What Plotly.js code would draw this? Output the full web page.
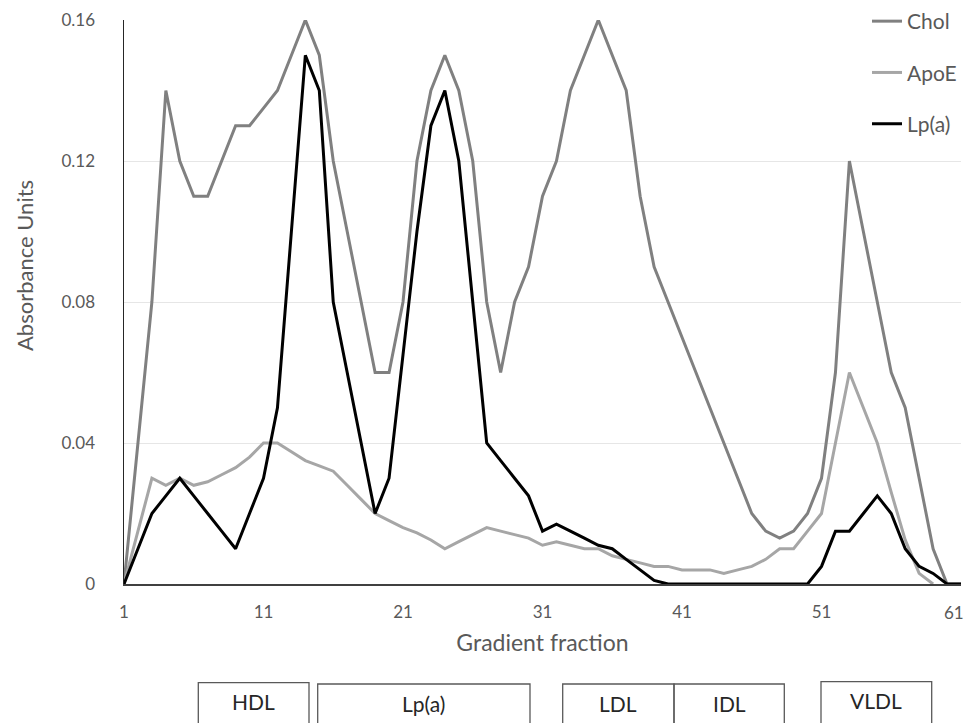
<!DOCTYPE html>
<html>
<head>
<meta charset="utf-8">
<script src="https://cdn.plot.ly/plotly-3.0.1.min.js"></script>
<style>html,body{margin:0;padding:0;background:#fff;}#chart{width:969px;height:723px;}</style>
</head>
<body>
<div id="chart"></div>
<script>
// Gradient fractions 1..61
const fractions = [1,2,3,4,5,6,7,8,9,10,11,12,13,14,15,16,17,18,19,20,21,22,23,24,25,26,27,28,29,30,31,32,33,34,35,36,37,38,39,40,41,42,43,44,45,46,47,48,49,50,51,52,53,54,55,56,57,58,59,60,61];

const chol = [0,0.04,0.08,0.14,0.12,0.11,0.11,0.12,0.13,0.13,0.135,0.14,0.15,0.16,0.15,0.12,0.10,0.08,0.06,0.06,
  0.08,0.12,0.14,0.15,0.14,0.12,0.08,0.06,0.08,0.09,0.11,0.12,0.14,0.15,0.16,0.15,0.14,0.11,0.09,0.08,
  0.07,0.06,0.05,0.04,0.03,0.02,0.015,0.013,0.015,0.02,0.03,0.06,0.12,0.10,0.08,0.06,0.05,0.03,0.01,0,0];

const apoE = [0,0.015,0.030,0.028,0.030,0.028,0.029,0.031,0.033,0.036,0.040,0.040,0.0375,0.035,0.0335,0.032,0.028,0.024,0.020,0.018,
  0.016,0.0145,0.0125,0.010,0.012,0.014,0.016,0.015,0.014,0.013,0.011,0.012,0.011,0.010,0.010,0.008,0.007,0.006,0.005,0.005,
  0.004,0.004,0.004,0.003,0.004,0.005,0.007,0.010,0.010,0.015,0.020,0.040,0.060,0.050,0.040,0.026,0.0125,0.003,0,null,null];

const lpa = [0,0.010,0.020,0.025,0.030,0.025,0.020,0.015,0.010,0.020,0.030,0.050,0.100,0.150,0.140,0.080,0.060,0.040,0.020,0.030,
  0.065,0.100,0.130,0.140,0.120,0.080,0.040,0.035,0.030,0.025,0.015,0.017,0.015,0.013,0.011,0.010,0.007,0.004,0.001,0,
  0,0,0,0,0,0,0,0,0,0,0.005,0.015,0.015,0.020,0.025,0.020,0.010,0.005,0.003,0,0];

const seriesNames = ["Chol", "ApoE", "Lp(a)"];
const xTicks = [1, 11, 21, 31, 41, 51, 61];
const yTicks = [0, 0.04, 0.08, 0.12, 0.16];
const yTickText = ["0", "0.04", "0.08", "0.12", "0.16"];
const fractionBands = ["HDL", "Lp(a)", "LDL", "IDL", "VLDL"];

// layout geometry (pixels)
const W = 969, H = 723, L = 124, R = 8, T = 20, B = 139;
const pw = W - L - R, ph = H - T - B;
const px = v => (v - L) / pw;
const py = v => (H - B - v) / ph;

const FONT = "Lato, 'Open Sans', sans-serif";
const colors = ["#808080", "#a6a6a6", "#000000"];
const ys = [chol, apoE, lpa];

const traces = ys.map((y, i) => ({
  type: "scatter", mode: "lines", x: fractions, y: y, name: seriesNames[i],
  legendgroup: "g" + i,
  line: {color: colors[i], width: 3, simplify: false},
  connectgaps: false
}));

// last x tick label is pulled inward (as in the original) so it stays inside the figure
const lastTick = xTicks[xTicks.length - 1];
const xTickText = xTicks.map(v => v === lastTick ? "" : String(v));

// band boxes below the axis
const boxes = [
  {x0: 198.3, x1: 309, top: 682.7, label: 0},
  {x0: 317.7, x1: 530, top: 684, label: 1},
  {x0: 562.7, x1: 674, top: 684, label: 2},
  {x0: 674, x1: 784.3, top: 684, label: 3},
  {x0: 821, x1: 931.7, top: 681.7, label: 4}
];
const shapes = boxes.map(b => ({
  type: "rect", xref: "paper", yref: "paper",
  x0: px(b.x0), x1: px(b.x1), y0: py(b.top), y1: py(760),
  line: {color: "#595959", width: 1.3}, fillcolor: "rgba(0,0,0,0)"
}));
const annotations = boxes.map(b => ({
  xref: "paper", yref: "paper", x: px((b.x0 + b.x1) / 2), y: py(b.top + 19),
  text: fractionBands[b.label], showarrow: false, xanchor: "center", yanchor: "middle",
  font: {family: FONT, size: 21, color: "#262626"}
}));
annotations.push({
  xref: "paper", yref: "paper", x: px(24), y: py(266), textangle: -90,
  text: "Absorbance Units", showarrow: false, xanchor: "center", yanchor: "middle",
  font: {family: FONT, size: 22, color: "#595959"}
});
annotations.push({
  xref: "paper", yref: "paper", x: px(966), y: py(612), xanchor: "right", yanchor: "middle",
  text: String(lastTick), showarrow: false,
  font: {family: FONT, size: 17, color: "#595959"}
});

const layout = {
  width: W, height: H,
  margin: {l: L, r: R, t: T, b: B, pad: 0, autoexpand: false},
  paper_bgcolor: "#ffffff", plot_bgcolor: "#ffffff",
  font: {family: FONT, color: "#595959"},
  showlegend: true,
  legend: {
    x: px(867), y: py(1), xanchor: "left", yanchor: "top",
    bgcolor: "rgba(0,0,0,0)", traceorder: "grouped", tracegroupgap: 21,
    font: {family: FONT, size: 21, color: "#595959"}, itemwidth: 30
  },
  xaxis: {
    range: [1, 61], tickvals: xTicks, ticktext: xTickText,
    showgrid: false, zeroline: false, showline: true, linecolor: "#404040", linewidth: 1.5,
    ticks: "", ticklabelstandoff: 12,
    tickfont: {family: FONT, size: 17, color: "#595959"},
    title: {text: "Gradient fraction", font: {family: FONT, size: 23, color: "#595959"}, standoff: 14}
  },
  yaxis: {
    range: [0, 0.16], tickvals: yTicks, ticktext: yTickText,
    showgrid: true, gridcolor: "#e6e6e6", gridwidth: 1,
    zeroline: false, showline: true, linecolor: "#262626", linewidth: 1.5,
    ticks: "", ticklabelstandoff: 24,
    tickfont: {family: FONT, size: 17, color: "#595959"}
  },
  shapes: shapes,
  annotations: annotations
};

Plotly.newPlot("chart", traces, layout, {displayModeBar: false, staticPlot: true});
</script>
</body>
</html>
